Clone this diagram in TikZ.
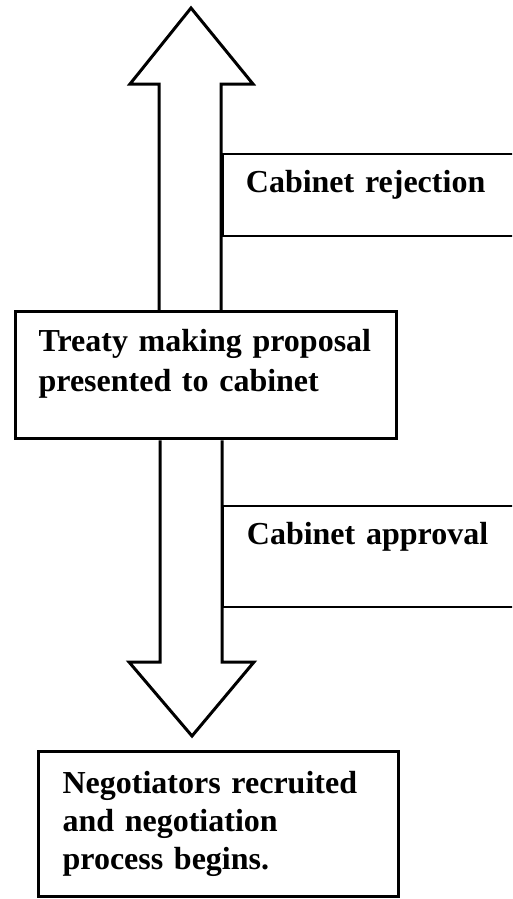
\documentclass[tikz,border=0pt]{standalone}
\usepackage{fontspec}
\setmainfont{Liberation Serif}
\usetikzlibrary{calc}
\newcommand{\boxdepth}[1]{\rule[-#1]{0pt}{#1}}
\tikzset{%
	box_main/.style={%
		draw, line width=3.2pt, fill=white, align=left, anchor=north west,
		font=\fontsize{32}{40}\selectfont\bfseries
	},
	box_side/.style={%
		draw, line width=1.8pt, fill=white, align=left, anchor=north west,
		inner ysep=16pt, font=\fontsize{32}{40}\selectfont\bfseries
	},
	block_arrow/.style={draw, line width=3pt, line join=miter}
}

\begin{document}
\begin{tikzpicture}[x=1pt,y=-1pt]
	\clip (0,0) rectangle (512,899);
	\node[box_main, inner xsep=23pt, inner ysep=18pt, text width=335pt] (prop) at (14,310)
		{Treaty making proposal\\presented to cabinet\boxdepth{29pt}};
	\node[box_main, inner xsep=24pt, inner ysep=20pt, text width=312pt,
		font=\fontsize{32}{38}\selectfont\bfseries] (neg) at (37,750)
		{Negotiators recruited\\and negotiation\\process begins.};
	\node[box_side, inner xsep=23pt, text width=272pt] (reject) at (222,153)
		{Cabinet rejection\boxdepth{28pt}};
	\node[box_side, inner xsep=24pt, text width=270pt] (approve) at (222,505)
		{Cabinet approval\boxdepth{47pt}};
	\coordinate (up_l) at (159,84);
	\coordinate (up_r) at (221,84);
	\coordinate (up_tip) at (191,8);
	\draw[block_arrow] (up_l |- prop.north) -- (up_l) -- (130,84) -- (up_tip)
		-- (253,84) -- (up_r) -- (up_r |- prop.north);
	\coordinate (dn_l) at (160,662);
	\coordinate (dn_r) at (222,662);
	\coordinate (dn_tip) at ($(dn_l |- neg.north)+(32,-14)$);
	\draw[block_arrow] (dn_l |- prop.south) -- (dn_l) -- (129,662) -- (dn_tip)
		-- (254,662) -- (dn_r) -- (dn_r |- prop.south);
\end{tikzpicture}
\end{document}
